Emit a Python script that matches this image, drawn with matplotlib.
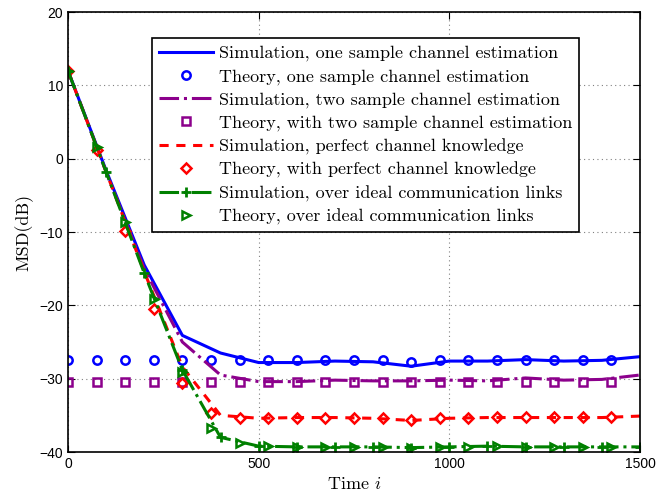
'''
MSD vs time: simulation and theory curves for the different channel cases
'''
import matplotlib
matplotlib.use("Agg")
import matplotlib.pyplot as plt

# sim curves sampled every 100 iterations
t_sim = [0, 100, 200, 300, 400, 500, 600, 700, 800, 900, 1000, 1100, 1200, 1300, 1400, 1500]
sim_one = [12, -1.6, -14.5, -24.1, -26.5, -27.8, -27.8, -27.6, -27.7, -28.3, -27.6, -27.6, -27.4, -27.6, -27.5, -27.0]
sim_two = [12, -1.8, -15.0, -25.0, -29.5, -30.4, -30.4, -30.2, -30.3, -30.3, -30.2, -30.3, -29.9, -30.2, -30.1, -29.5]
sim_perfect = [12, -1.8, -15.4, -28.4, -35.0, -35.4, -35.3, -35.3, -35.4, -35.7, -35.4, -35.3, -35.3, -35.3, -35.3, -35.1]
sim_ideal = [12, -1.8, -15.6, -28.8, -38.0, -39.2, -39.3, -39.3, -39.3, -39.4, -39.3, -39.2, -39.3, -39.3, -39.3, -39.3]

# theory markers every 75 iterations
t_th = [0, 75, 150, 225, 300, 375, 450, 525, 600, 675, 750, 825, 900, 975, 1050, 1125, 1200, 1275, 1350, 1425]
th_one = [-27.5, -27.5, -27.5, -27.5, -27.5, -27.5, -27.5, -27.5, -27.5, -27.5,
          -27.5, -27.5, -27.7, -27.5, -27.5, -27.5, -27.5, -27.5, -27.5, -27.5]
th_two = [-30.5, -30.5, -30.5, -30.5, -30.5, -30.5, -30.5, -30.5, -30.5, -30.5,
          -30.5, -30.5, -30.5, -30.5, -30.5, -30.4, -30.4, -30.4, -30.4, -30.4]
th_perfect = [12, 1.2, -9.8, -20.5, -30.6, -34.7, -35.3, -35.3, -35.3, -35.3,
              -35.3, -35.4, -35.7, -35.3, -35.3, -35.2, -35.2, -35.2, -35.2, -35.2]
th_ideal = [12, 1.6, -8.7, -19.2, -29.1, -36.7, -38.8, -39.2, -39.3, -39.3,
            -39.3, -39.3, -39.5, -39.3, -39.3, -39.2, -39.3, -39.3, -39.3, -39.3]

labels = ["Simulation, one sample channel estimation",
          "Theory, one sample channel estimation",
          "Simulation, two sample channel estimation",
          "Theory, with two sample channel estimation",
          "Simulation, perfect channel knowledge",
          "Theory, with perfect channel knowledge",
          "Simulation, over ideal communication links",
          "Theory, over ideal communication links"]

plt.rcParams['mathtext.fontset'] = 'cm'
plt.rcParams['axes.formatter.use_mathtext'] = False

purple = (0.55, 0.0, 0.55)
green = (0.0, 0.5, 0.0)

fig = plt.figure(figsize=(6.69, 4.94), dpi=100)
ax = fig.add_axes([0.1016, 0.085, 0.855, 0.8907])

ax.plot(t_sim, sim_one, '-', color='blue', lw=2.2, label=labels[0])
ax.plot(t_th, th_one, 'o', color='blue', mfc='none', mew=1.8, ms=6, label=labels[1])
ax.plot(t_sim, sim_two, '-.', color=purple, lw=2.2, label=labels[2])
ax.plot(t_th, th_two, 's', color=purple, mfc='none', mew=1.8, ms=6, label=labels[3])
ax.plot(t_sim, sim_perfect, '--', color='red', lw=2.2, dashes=(3, 2.5), label=labels[4])
ax.plot(t_th, th_perfect, 'D', color='red', mfc='none', mew=1.8, ms=5, label=labels[5])
ax.plot(t_sim, sim_ideal, '-.', color=green, lw=2.2, marker='+', ms=7, mew=2, label=labels[6])
ax.plot(t_th, th_ideal, '>', color=green, mfc='none', mew=1.8, ms=6, label=labels[7])

ax.set_xlim(0, 1500)
ax.set_ylim(-40, 20)
ax.set_xticks([0, 500, 1000, 1500])
ax.set_yticks([-40, -30, -20, -10, 0, 10, 20])
ax.grid(True, linestyle=(0, (1, 3)), color='gray', lw=0.8)
ax.tick_params(direction='in', top=True, right=True, length=5, labelsize=10)
for lab in ax.get_xticklabels() + ax.get_yticklabels():
    lab.set_family('Liberation Sans')
for s in ax.spines.values():
    s.set_linewidth(1.2)

ax.set_xlabel("Time $i$", family='cmr10', fontsize=13)
ax.set_ylabel("MSD(dB)", family='cmr10', fontsize=13)

leg = ax.legend(loc='upper left', bbox_to_anchor=(0.147, 0.941), fancybox=False,
                edgecolor='black', framealpha=1, borderaxespad=0,
                prop={'family': 'cmr10', 'size': 13}, handlelength=3.0,
                handletextpad=0.3, labelspacing=0.40, numpoints=1)
leg.get_frame().set_linewidth(1.2)

fig.savefig("out.png", dpi=100)
